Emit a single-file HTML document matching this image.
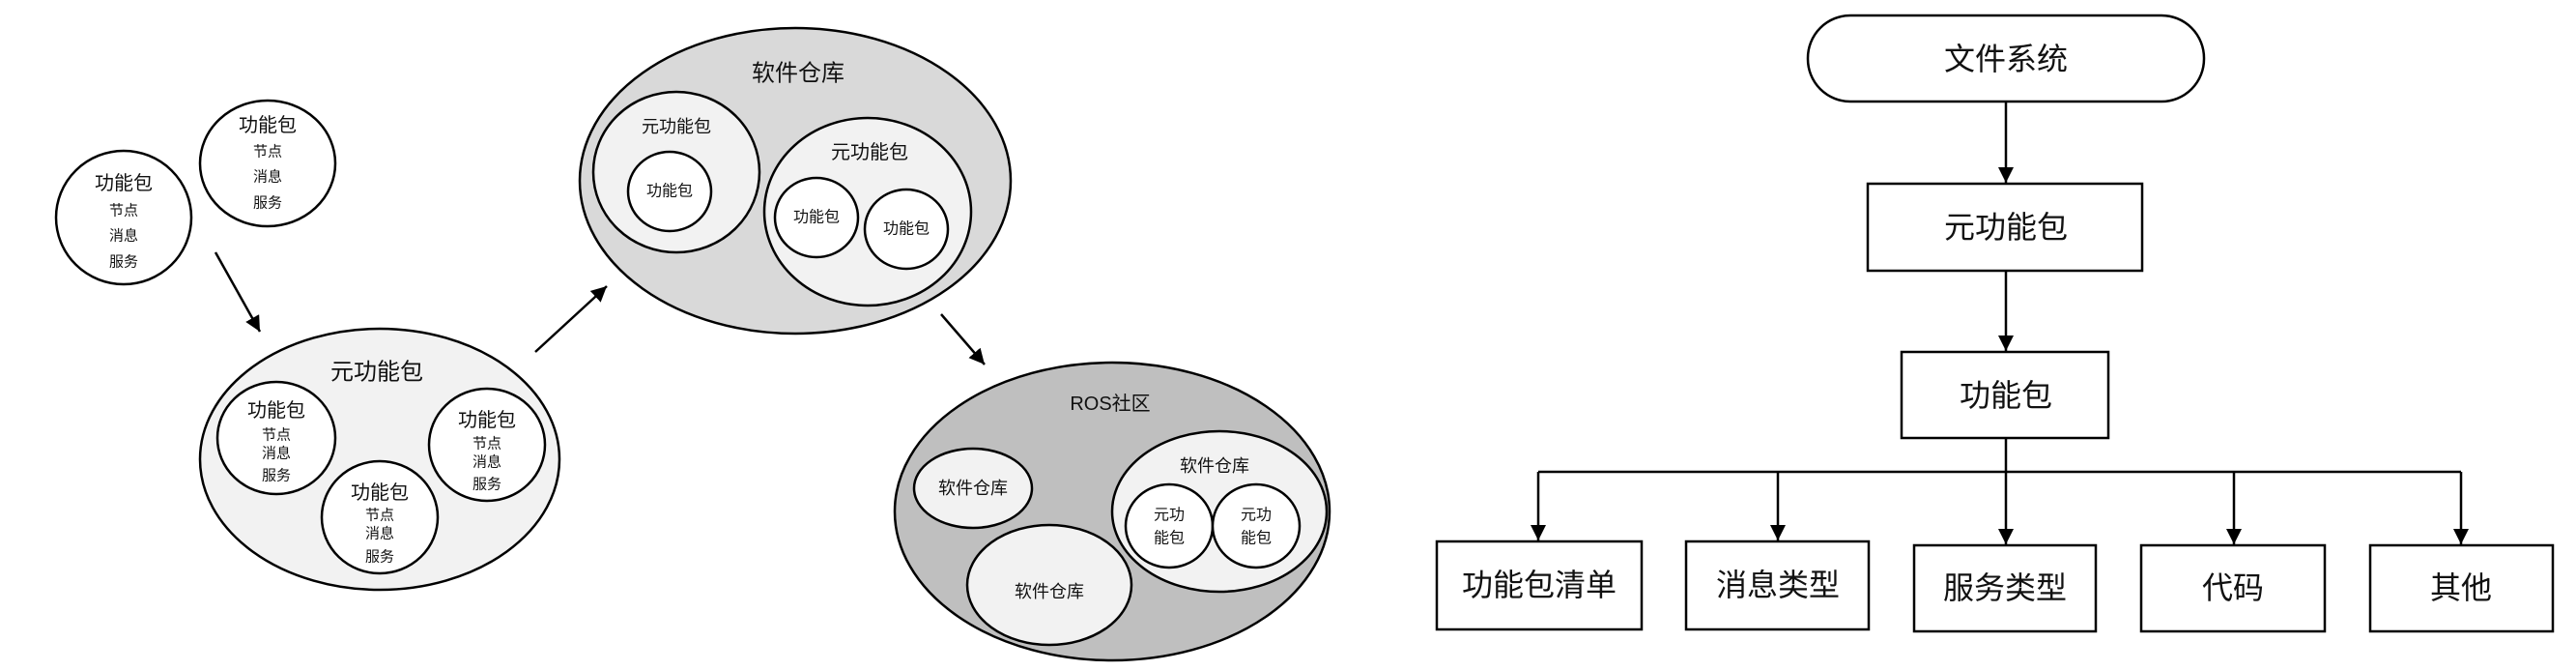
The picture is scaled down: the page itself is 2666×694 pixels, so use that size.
<!DOCTYPE html>
<html><head><meta charset="utf-8"><style>
html,body{margin:0;padding:0;background:#fff}
svg{display:block}
text{font-family:"Liberation Sans","Noto Sans CJK SC",sans-serif;fill:#111;text-anchor:middle;dominant-baseline:central}
</style></head><body>
<svg width="2666" height="694" viewBox="0 0 2666 694" xmlns="http://www.w3.org/2000/svg">
<defs>
<marker id="ah" viewBox="0 0 10 10" refX="9" refY="5" markerWidth="7" markerHeight="7" orient="auto" markerUnits="userSpaceOnUse">
</marker>
<marker id="a" viewBox="0 0 10 10" refX="10" refY="5" markerWidth="16" markerHeight="16" orient="auto" markerUnits="userSpaceOnUse"><path d="M0,0 L10,5 L0,10 z" fill="#000"/></marker>
</defs>
<g stroke="#000" stroke-width="2.5">
<!-- loose packages -->
<ellipse cx="128" cy="225" rx="70" ry="69" fill="#fff"/>
<ellipse cx="277" cy="169" rx="70" ry="65" fill="#fff"/>
<line x1="223" y1="261" x2="269" y2="343" marker-end="url(#a)"/>
<!-- meta package -->
<ellipse cx="393" cy="475" rx="186" ry="135" fill="#f2f2f2"/>
<ellipse cx="286" cy="453" rx="61" ry="58" fill="#fff"/>
<ellipse cx="504" cy="460" rx="60" ry="58" fill="#fff"/>
<ellipse cx="393" cy="535" rx="60" ry="58" fill="#fff"/>
<line x1="554" y1="364" x2="628" y2="296" marker-end="url(#a)"/>
<!-- repository -->
<ellipse cx="823" cy="187" rx="223" ry="158" fill="#d9d9d9"/>
<ellipse cx="700" cy="178" rx="86" ry="83" fill="#f2f2f2"/>
<ellipse cx="693" cy="198" rx="43" ry="41" fill="#fff"/>
<ellipse cx="898" cy="219" rx="107" ry="97" fill="#f2f2f2"/>
<ellipse cx="845" cy="225" rx="43" ry="41" fill="#fff"/>
<ellipse cx="938" cy="237" rx="43" ry="41" fill="#fff"/>
<line x1="974" y1="325" x2="1019" y2="377" marker-end="url(#a)"/>
<!-- ROS community -->
<ellipse cx="1151" cy="529" rx="225" ry="154" fill="#bfbfbf"/>
<ellipse cx="1007" cy="505" rx="61" ry="41" fill="#f2f2f2"/>
<ellipse cx="1086" cy="605" rx="85" ry="62" fill="#f2f2f2"/>
<ellipse cx="1262" cy="529" rx="111" ry="83" fill="#f2f2f2"/>
<ellipse cx="1210" cy="544" rx="45" ry="43" fill="#fff"/>
<ellipse cx="1300" cy="544" rx="45" ry="43" fill="#fff"/>
</g>
<g font-size="20">
<text x="128" y="190">功能包</text>
<text x="277" y="130">功能包</text>
<text x="286" y="425">功能包</text>
<text x="504" y="435">功能包</text>
<text x="393" y="510">功能包</text>
</g>
<g font-size="15">
<text x="128" y="218">节点</text><text x="128" y="244">消息</text><text x="128" y="271">服务</text>
<text x="277" y="157">节点</text><text x="277" y="183">消息</text><text x="277" y="210">服务</text>
<text x="286" y="450">节点</text><text x="286" y="469">消息</text><text x="286" y="492">服务</text>
<text x="504" y="459">节点</text><text x="504" y="478">消息</text><text x="504" y="501">服务</text>
<text x="393" y="533">节点</text><text x="393" y="552">消息</text><text x="393" y="576">服务</text>
</g>
<text x="390" y="385" font-size="24">元功能包</text>
<text x="826" y="76" font-size="24">软件仓库</text>
<text x="700" y="131" font-size="18">元功能包</text>
<text x="693" y="198" font-size="16">功能包</text>
<text x="900" y="158" font-size="20">元功能包</text>
<text x="845" y="225" font-size="16">功能包</text>
<text x="938" y="237" font-size="16">功能包</text>
<text x="1149" y="418" font-size="20">ROS社区</text>
<text x="1007" y="505" font-size="18">软件仓库</text>
<text x="1086" y="612" font-size="18">软件仓库</text>
<text x="1257" y="482" font-size="18">软件仓库</text>
<text x="1210" y="533" font-size="16">元功</text><text x="1210" y="557" font-size="16">能包</text>
<text x="1300" y="533" font-size="16">元功</text><text x="1300" y="557" font-size="16">能包</text>
<!-- right diagram -->
<g stroke="#000" stroke-width="2.5" fill="#fff">
<rect x="1871" y="16" width="410" height="89" rx="44" ry="44"/>
<rect x="1933" y="190" width="284" height="90"/>
<rect x="1968" y="364" width="214" height="89"/>
<rect x="1487" y="560" width="212" height="91"/>
<rect x="1745" y="560" width="189" height="91"/>
<rect x="1981" y="564" width="188" height="89"/>
<rect x="2216" y="564" width="190" height="89"/>
<rect x="2453" y="564" width="189" height="89"/>
</g>
<g stroke="#000" stroke-width="2.5" fill="none">
<line x1="2076" y1="105" x2="2076" y2="189" marker-end="url(#a)"/>
<line x1="2076" y1="280" x2="2076" y2="363" marker-end="url(#a)"/>
<line x1="2076" y1="453" x2="2076" y2="488"/>
<line x1="1592" y1="488" x2="2547" y2="488"/>
<line x1="1592" y1="488" x2="1592" y2="559" marker-end="url(#a)"/>
<line x1="1840" y1="488" x2="1840" y2="559" marker-end="url(#a)"/>
<line x1="2076" y1="488" x2="2076" y2="563" marker-end="url(#a)"/>
<line x1="2312" y1="488" x2="2312" y2="563" marker-end="url(#a)"/>
<line x1="2547" y1="488" x2="2547" y2="563" marker-end="url(#a)"/>
</g>
<g font-size="32">
<text x="2076" y="61">文件系统</text>
<text x="2076" y="235">元功能包</text>
<text x="2076" y="409">功能包</text>
<text x="1593" y="605">功能包清单</text>
<text x="1840" y="605">消息类型</text>
<text x="2075" y="608">服务类型</text>
<text x="2311" y="608">代码</text>
<text x="2547" y="608">其他</text>
</g>
</svg>
</body></html>
